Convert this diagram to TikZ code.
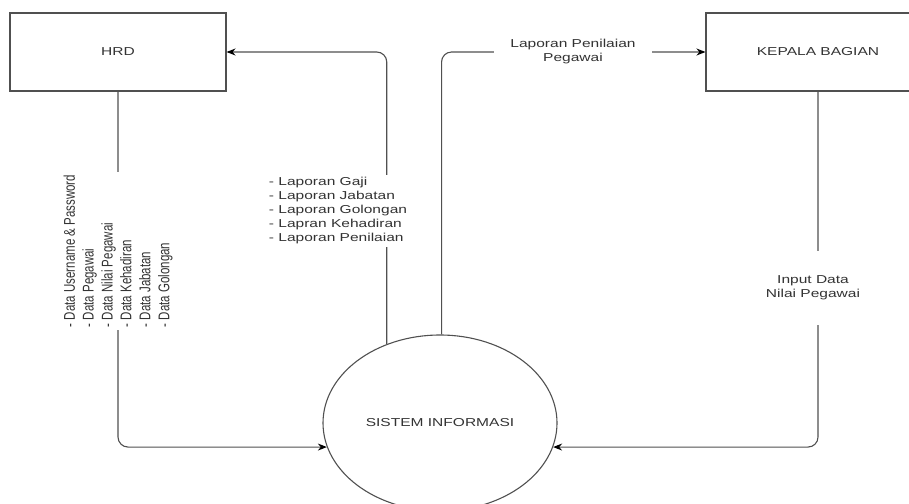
\documentclass[tikz,border=0pt]{standalone}
\usepackage{fontspec}
\setmainfont{Liberation Sans}
\usetikzlibrary{shapes.geometric,arrows.meta}
\definecolor{linegray}{HTML}{505050}
\definecolor{txtgray}{HTML}{333333}
\newcommand{\sxt}[1]{\scalebox{1.35}[1]{#1}}
\begin{document}
\begin{tikzpicture}[x=1pt,y=-1pt,
  every node/.style={font=\fontsize{11.5}{14}\selectfont, text=txtgray},
  entity/.style={draw=linegray, line width=1.1pt, rectangle, inner sep=0pt},
  proc/.style={draw=linegray, line width=1.1pt, ellipse, inner sep=0pt, minimum width=234pt, minimum height=176pt},
  conn/.style={draw=linegray, line width=1.1pt, rounded corners=10pt, -{Stealth[length=9pt,width=7pt,color=black]}},
  lab/.style={fill=white, inner sep=3pt, xscale=1.35}
]
\useasboundingbox (0,0) rectangle (909,503);

\node[entity, minimum width=216pt, minimum height=78pt] (hrd) at (118,52) {\sxt{HRD}};
\node[entity, minimum width=224pt, minimum height=78pt] (kb) at (818,52) {\sxt{KEPALA BAGIAN}};
\node[proc] (sis) at (440,423) {\sxt{SISTEM INFORMASI}};

\draw[conn] (hrd.south) |- (sis.192);
\draw[conn] (sis.124) |- (hrd.east);
\draw[conn] (sis.89) |- (kb.west);
\draw[conn] (kb.south) |- (sis.-12);

\node[lab, rotate=90, align=left] (l1) at (118,251)
  {- Data Username \& Password\\- Data Pegawai\\- Data Nilai Pegawai\\- Data Kehadiran\\- Data Jabatan\\- Data Golongan};
\node[lab, align=left] (l2) at (338,211)
  {- Laporan Gaji\\- Laporan Jabatan\\- Laporan Golongan\\- Lapran Kehadiran\\- Laporan Penilaian};
\node[lab, align=center, inner xsep=12pt] (l3) at (573,52)
  {Laporan Penilaian\\Pegawai};
\node[lab, align=center, inner ysep=25pt] (l4) at (813,288)
  {Input Data\\Nilai Pegawai};
\end{tikzpicture}
\end{document}
